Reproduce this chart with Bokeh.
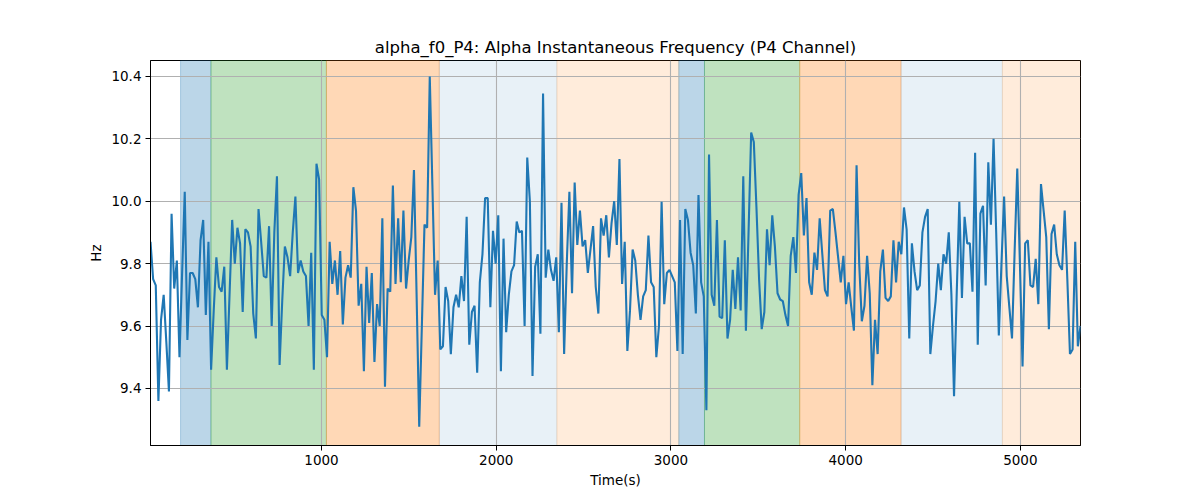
from bokeh.plotting import figure
from bokeh.models import Range1d, BoxAnnotation, FixedTicker
from bokeh.embed import file_html
from bokeh.resources import INLINE
import numpy as np

# Sampling of the time axis (seconds)
t_start = 21.0
t_step = 15.08

# Alpha instantaneous frequency (Hz)
freq = [
    9.87, 9.75, 9.73, 9.36, 9.62, 9.70, 9.55, 9.39, 9.96, 9.72, 9.81, 9.50, 9.77, 10.03, 9.555, 9.77,
    9.77, 9.75, 9.66, 9.875, 9.94, 9.635, 9.87, 9.46, 9.65, 9.82, 9.725, 9.71, 9.79, 9.46, 9.70, 9.94,
    9.80, 9.915, 9.865, 9.645,
    9.91, 9.90, 9.855, 9.64, 9.56, 9.975, 9.87, 9.76, 9.755, 9.92, 9.60, 9.90, 10.08, 9.475, 9.68, 9.855,
    9.82, 9.76, 9.90, 10.015, 9.77, 9.81, 9.775, 9.76, 9.60, 9.835, 9.46, 10.12, 10.07, 9.635, 9.62, 9.50,
    9.87, 9.735, 9.81,
    9.70, 9.84, 9.605, 9.755, 9.795, 9.755, 10.045, 9.97, 9.665, 9.735, 9.455, 9.79, 9.61, 9.77, 9.485, 9.67,
    9.60, 9.945, 9.405, 9.72, 9.71, 10.05, 9.735, 9.945, 9.74, 9.97, 9.72, 9.81, 9.885, 10.10, 9.70, 9.277,
    9.60, 9.925, 9.915,
    10.40, 10.05, 9.70, 9.81, 9.525, 9.535, 9.725, 9.68, 9.51, 9.66, 9.70, 9.66, 9.76, 9.68, 9.95, 9.54,
    9.645, 9.665, 9.45, 9.74, 9.83, 10.01, 10.01, 9.66, 9.905, 9.80, 9.955, 9.455, 9.88, 9.58, 9.70, 9.775,
    9.795, 9.935, 9.90,
    9.905, 9.60, 10.14, 10.0, 9.44, 9.79, 9.83, 9.575, 10.345, 9.755, 9.845, 9.78, 9.745, 9.82, 9.58, 9.995,
    9.51, 9.80, 10.03, 9.705, 10.06, 9.86, 9.97, 9.855, 9.875, 9.77, 9.845, 9.92, 9.725, 9.64, 9.945, 9.89,
    9.955, 9.82, 9.93, 10.0,
    9.86, 10.135, 9.735, 9.87, 9.52, 9.65, 9.845, 9.81, 9.70, 9.62, 9.695, 9.715, 9.89, 9.74, 9.725, 9.50,
    9.60, 9.998, 9.67, 9.77, 9.78, 9.76, 9.74, 9.52, 9.94, 9.51, 9.975, 9.94, 9.835, 9.795, 9.64, 10.02,
    9.74, 9.695, 9.33,
    10.15, 9.70, 9.665, 9.94, 9.63, 9.625, 9.875, 9.56, 9.62, 9.78, 9.655, 9.82, 9.65, 10.08, 9.585, 9.90,
    10.22, 10.19, 9.98, 9.75, 9.59, 9.645, 9.91, 9.795, 9.955, 9.855, 9.705, 9.685, 9.68, 9.635, 9.60, 9.825,
    9.885, 9.77, 10.02,
    10.09, 9.89, 10.01, 9.74, 9.70, 9.835, 9.78, 9.945, 9.83, 9.715, 9.695, 9.97, 9.975, 9.90, 9.82, 9.74,
    9.825, 9.67, 9.74, 9.66, 9.585, 10.115, 9.80, 9.615, 9.665, 9.825, 9.705, 9.41, 9.62, 9.51, 9.775, 9.845,
    9.69, 9.68, 9.695,
    9.875, 9.74, 9.87, 9.83, 9.98, 9.91, 9.56, 9.865, 9.775, 9.715, 9.73, 9.90, 9.95, 9.975, 9.51, 9.60,
    9.68, 9.80, 9.715, 9.83, 9.80, 9.90, 9.70, 9.375, 9.70, 9.998, 9.69, 9.95, 9.865, 9.865, 9.71, 10.155,
    9.54,
    9.96, 9.985, 9.73, 10.125, 9.925, 10.20, 9.90, 9.57, 9.80, 10.015, 9.76, 9.66, 9.56, 9.84, 10.105, 9.80,
    9.47, 9.865, 9.875, 9.73, 9.725, 9.815, 9.67, 10.055, 9.97, 9.885, 9.59, 9.895, 9.925, 9.83, 9.795, 9.78,
    9.97, 9.75, 9.51, 9.525, 9.87, 9.535, 9.60,
]

time = t_start + t_step * np.arange(len(freq))

# Shaded segments: (start, end, colour, alpha)
seg_start = [193, 367, 1028, 1674, 2347, 3045, 3192, 3737, 4317, 4897]
seg_end = [367, 1028, 1674, 2347, 3045, 3192, 3737, 4317, 4897, float(time[-1]) + 50]
seg_color = ["#1f77b4", "#2ca02c", "#ff7f0e", "#1f77b4", "#ff7f0e",
             "#1f77b4", "#2ca02c", "#ff7f0e", "#1f77b4", "#ff7f0e"]
seg_alpha = [0.3, 0.3, 0.3, 0.1, 0.15, 0.3, 0.3, 0.3, 0.1, 0.15]

y_ticks = [9.4, 9.6, 9.8, 10.0, 10.2, 10.4]
x_ticks = [1000, 2000, 3000, 4000, 5000]

FONT = "DejaVu Sans"

p = figure(
    frame_width=930, frame_height=385,
    min_border_left=150, min_border_right=100, min_border_top=60, min_border_bottom=50,
    output_backend="svg", toolbar_location=None,
    x_range=Range1d(float(time[0]), float(time[-1])),
    y_range=Range1d(9.217, 10.451),
    title="alpha_f0_P4: Alpha Instantaneous Frequency (P4 Channel)",
)
p.background_fill_color = "white"
p.border_fill_color = "white"
p.outline_line_color = "black"
p.outline_line_width = 1

p.title.align = "center"
p.title.text_font = FONT
p.title.text_font_size = "16.5px"
p.title.text_font_style = "normal"
p.title.text_color = "black"
p.title.standoff = 7

for s, e, c, a in zip(seg_start, seg_end, seg_color, seg_alpha):
    box = BoxAnnotation(left=s, right=e, fill_color=c, fill_alpha=a,
                        line_color=c, line_alpha=a, line_width=1, level="image")
    p.add_layout(box)

p.line(time, freq, line_color="#1f77b4", line_width=2.1)

for ax in (p.xaxis[0], p.yaxis[0]):
    ax.axis_line_color = "black"
    ax.major_tick_line_color = "black"
    ax.major_tick_out = 5
    ax.major_tick_in = 0
    ax.minor_tick_line_color = None
    ax.major_label_text_font = FONT
    ax.major_label_text_font_size = "13.5px"
    ax.major_label_text_color = "black"
    ax.axis_label_text_font = FONT
    ax.axis_label_text_font_size = "13.5px"
    ax.axis_label_text_font_style = "normal"
    ax.axis_label_text_color = "black"
    ax.major_label_standoff = 4

p.xaxis.ticker = FixedTicker(ticks=x_ticks)
p.yaxis.ticker = FixedTicker(ticks=y_ticks)
p.yaxis.major_label_overrides = {v: f"{v:.1f}" for v in y_ticks}
p.xaxis.axis_label = "Time(s)"
p.yaxis.axis_label = "Hz"
p.xaxis.axis_label_standoff = 4
p.yaxis.axis_label_standoff = 4

for g in (p.xgrid[0], p.ygrid[0]):
    g.grid_line_color = "#b0b0b0"
    g.grid_line_width = 1.1
p.xgrid.ticker = FixedTicker(ticks=x_ticks)
p.ygrid.ticker = FixedTicker(ticks=y_ticks)

open("out.html", "w").write(file_html(p, INLINE))
